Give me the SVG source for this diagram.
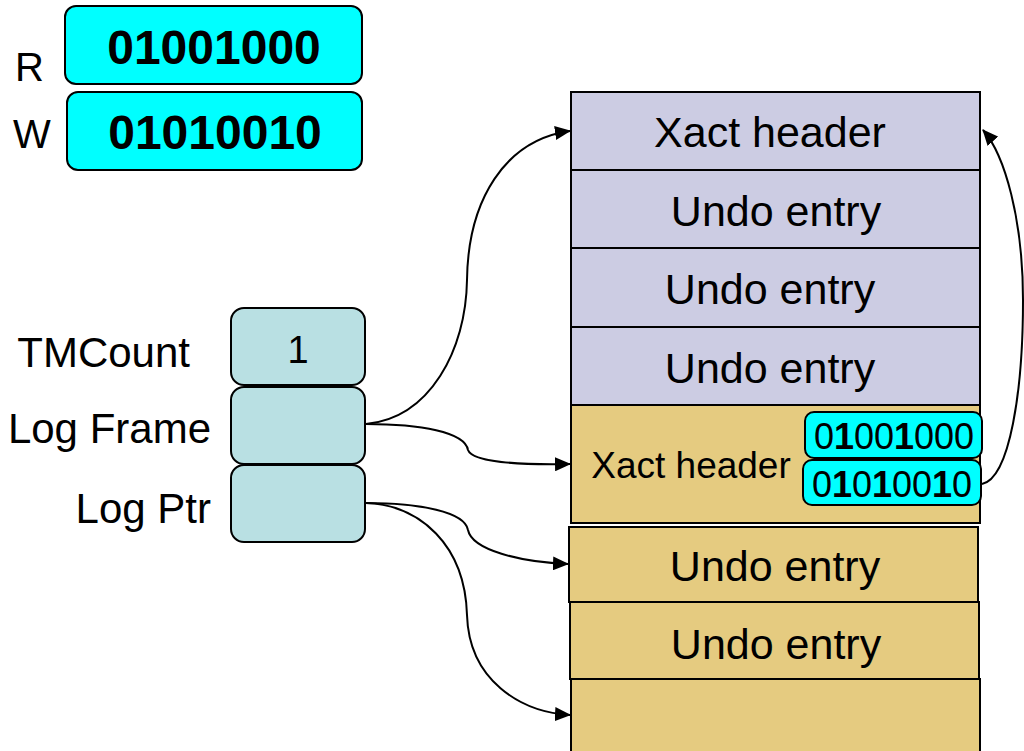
<svg xmlns="http://www.w3.org/2000/svg" width="1024" height="751" viewBox="0 0 1024 751">
  <style>
    text { font-family: "Liberation Sans", Arial, sans-serif; fill: #000; }
    .reg { fill: #00FFFF; stroke: #000; stroke-width: 2; }
    .cell { fill: #B9E0E3; stroke: #000; stroke-width: 2; }
    .lav { fill: #CCCCE3; stroke: #000; stroke-width: 2; }
    .tan { fill: #E5CB80; stroke: #000; stroke-width: 2; }
    .lbl { font-size: 42px; }
    .big { font-size: 48px; font-weight: bold; text-anchor: middle; }
    .row { font-size: 43px; text-anchor: middle; }
    .bits { font-size: 36px; text-anchor: middle; }
    .conn { fill: none; stroke: #000; stroke-width: 2; marker-end: url(#arrow); }
  </style>
  <defs>
    <marker id="arrow" markerWidth="16" markerHeight="14" refX="15" refY="7" orient="auto" markerUnits="userSpaceOnUse">
      <path d="M0,0 L16,7 L0,14 Z" fill="#000"/>
    </marker>
  </defs>

  <!-- read / write signature registers -->
  <g id="reg-r">
    <text x="15" y="81" font-size="40">R</text>
    <rect class="reg" x="65" y="6" width="297" height="78" rx="11"/>
    <text class="big" x="214" y="64">01001000</text>
  </g>
  <g id="reg-w">
    <text x="13" y="148" font-size="40">W</text>
    <rect class="reg" x="67" y="92" width="295" height="78" rx="11"/>
    <text class="big" x="215" y="149">01010010</text>
  </g>

  <!-- per-thread transactional state -->
  <g id="tmcount">
    <text class="lbl" x="190" y="367" text-anchor="end">TMCount</text>
    <rect class="cell" x="231" y="308" width="134" height="77" rx="13"/>
    <text x="298" y="363" text-anchor="middle" font-size="38">1</text>
  </g>
  <g id="log-frame">
    <text class="lbl" x="211" y="443" text-anchor="end">Log Frame</text>
    <rect class="cell" x="231" y="387" width="134" height="77" rx="13"/>
  </g>
  <g id="log-ptr">
    <text class="lbl" x="211" y="523" text-anchor="end">Log Ptr</text>
    <rect class="cell" x="231" y="465" width="134" height="77" rx="13"/>
  </g>

  <!-- outer transaction log frame -->
  <g id="outer-header">
    <rect class="lav" x="571" y="92" width="409" height="78"/>
    <text class="row" x="770" y="147">Xact header</text>
  </g>
  <g id="outer-undo-1">
    <rect class="lav" x="571" y="170" width="409" height="78"/>
    <text class="row" x="776" y="226">Undo entry</text>
  </g>
  <g id="outer-undo-2">
    <rect class="lav" x="571" y="248" width="409" height="79"/>
    <text class="row" x="770" y="304">Undo entry</text>
  </g>
  <g id="outer-undo-3">
    <rect class="lav" x="571" y="327" width="409" height="78"/>
    <text class="row" x="770" y="383">Undo entry</text>
  </g>

  <!-- inner (nested) transaction log frame -->
  <g id="inner-header">
    <rect class="tan" x="571" y="405" width="409" height="118"/>
    <text x="691" y="478" font-size="37" text-anchor="middle">Xact header</text>
    <rect class="reg" x="805" y="412" width="177" height="46" rx="9"/>
    <text class="bits" x="894" y="449">0<tspan font-weight="bold">1</tspan>00<tspan font-weight="bold">1</tspan>000</text>
    <rect class="reg" x="803" y="460" width="178" height="45" rx="9"/>
    <text class="bits" x="892" y="497">0<tspan font-weight="bold">1</tspan>0<tspan font-weight="bold">1</tspan>00<tspan font-weight="bold">1</tspan>0</text>
  </g>
  <g id="inner-undo-1">
    <rect class="tan" x="569" y="527" width="409" height="75"/>
    <text class="row" x="775" y="581">Undo entry</text>
  </g>
  <g id="inner-undo-2">
    <rect class="tan" x="570" y="602" width="409" height="77"/>
    <text class="row" x="776" y="659">Undo entry</text>
  </g>
  <g id="inner-free">
    <rect class="tan" x="571" y="679" width="409" height="80"/>
  </g>

  <!-- pointers -->
  <g id="connectors">
    <path class="conn" d="M366,424 C430,418 466,350 467,280 C468,200 505,140 570,131"/>
    <path class="conn" d="M366,424 C420,424 465,432 468,450 C472,462 520,465 570,464"/>
    <path class="conn" d="M366,503 C420,503 465,512 468,530 C472,550 520,562 568,564"/>
    <path class="conn" d="M366,503 C420,505 465,545 467,615 C469,680 520,712 570,715"/>
    <path class="conn" d="M982,484 C1010,478 1023,390 1023,300 C1023,220 1005,155 983,130"/>
  </g>
</svg>
